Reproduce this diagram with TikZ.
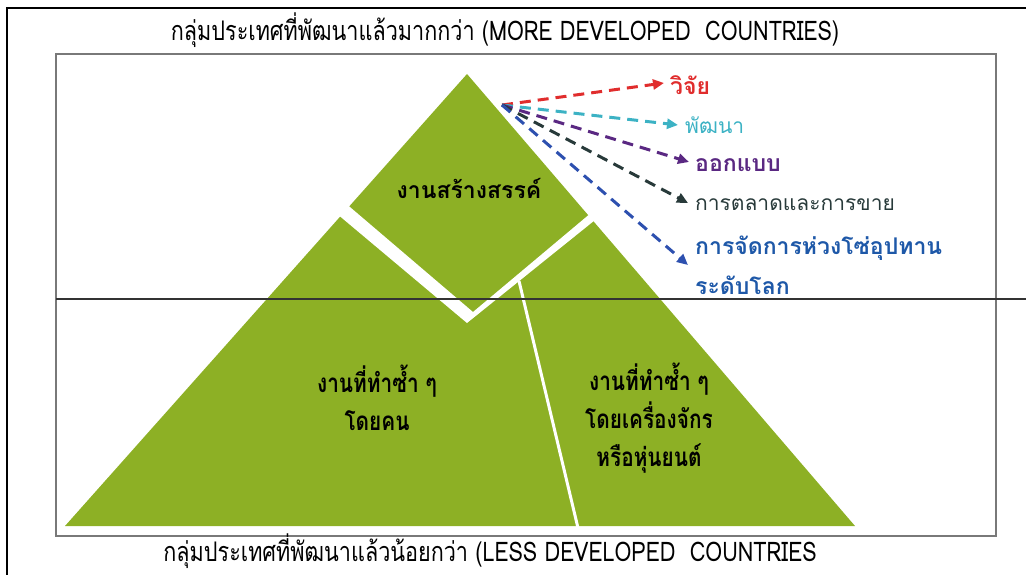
\documentclass[tikz,border=0pt]{standalone}
\usepackage{fontspec}
\newfontfamily\thaifont[Script=Thai]{Loma}
\newfontfamily\thaicond[Script=Thai,FakeStretch=0.8]{Loma}
\usetikzlibrary{arrows.meta,
    positioning}
\definecolor{leafgreen}{RGB}{141,176,37}
\definecolor{rdred}{RGB}{224,45,45}
\definecolor{devcyan}{RGB}{60,178,196}
\definecolor{dsgpurple}{RGB}{90,40,130}
\definecolor{mktslate}{RGB}{40,58,58}
\definecolor{scmblue}{RGB}{30,88,168}
\definecolor{scmarrow}{RGB}{45,80,175}
\tikzset{
  heading/.style={font=\thaicond\fontsize{27}{30}\selectfont, inner sep=0pt},
  tier/.style={font=\thaicond\bfseries\fontsize{26}{38}\selectfont, align=center, inner sep=0pt},
  branch/.style={font=\thaifont\fontsize{21}{40}\selectfont, anchor=west, align=left, inner sep=0pt},
  boldbranch/.style={branch, font=\thaifont\bfseries\fontsize{23}{40}\selectfont},
  flow/.style={line width=3pt, dash pattern=on 11pt off 7pt, -{Triangle[length=11pt,width=10pt]}},
  }

\begin{document}
\begin{tikzpicture}[x=1pt,y=-1pt]
  \useasboundingbox (0,0) rectangle (1026,575);
  % frames
  \draw[line width=1.5pt] (7,575) -- (7,8) -- (1026,8);
  \draw[gray!95!black, line width=1.5pt] (56,54) rectangle (996,536);
  % the pyramid, cut in three
  \fill[leafgreen] (467,74) -- (855,526) -- (65,526) -- cycle;
  \fill[white] (330,190) -- (473,312) -- (610,197) -- (610,208) -- (467,323) -- (330,208) -- cycle;
  \draw[white, line width=3pt] (519,281) -- (578,528);
  \draw[black!80, line width=1.5pt] (56,299) -- (1026,299);

  \node[heading] (more) at (505,30)  {กลุ่มประเทศที่พัฒนาแล้วมากกว่า (MORE DEVELOPED\ \ COUNTRIES)};
  \node[heading] (less) at (490,551) {กลุ่มประเทศที่พัฒนาแล้วน้อยกว่า (LESS DEVELOPED\ \ COUNTRIES};

  \node[tier, font=\thaifont\bfseries\fontsize{23}{30}\selectfont] (creative) at (469,188) {งานสร้างสรรค์};
  \node[tier] (manual)   at (377,398) {งานที่ทำซ้ำ ๆ\\โดยคน};
  \node[tier] (machine)  at (649,418) {งานที่ทำซ้ำ ๆ\\โดยเครื่องจักร\\หรือหุ่นยนต์};

  \node[boldbranch, text=rdred] (research) at (670,85)  {วิจัย};
  \node[branch, text=devcyan]   (develop)  at (685,125) {พัฒนา};
  \node[boldbranch, text=dsgpurple] (design) at (695,165) {ออกแบบ};
  \node[branch, text=mktslate]  (market)   at (695,205) {การตลาดและการขาย};
  \node[boldbranch, text=scmblue] (supply) at (695,265) {การจัดการห่วงโซ่อุปทาน\\ระดับโลก};

  \coordinate (src) at (502,105);
  \draw[flow, rdred]     (src) -- ([xshift=-6pt,yshift=2pt]research.west);
  \draw[flow, devcyan]   (src) -- ([xshift=-7pt]develop.west);
  \draw[flow, dsgpurple] (src) -- ([xshift=-6pt,yshift=3pt]design.west);
  \draw[flow, mktslate]  (src) -- ([xshift=-7pt,yshift=2pt]market.west);
  \draw[flow, scmarrow]  (src) -- ([xshift=-7pt]supply.west);
\end{tikzpicture}
\end{document}
